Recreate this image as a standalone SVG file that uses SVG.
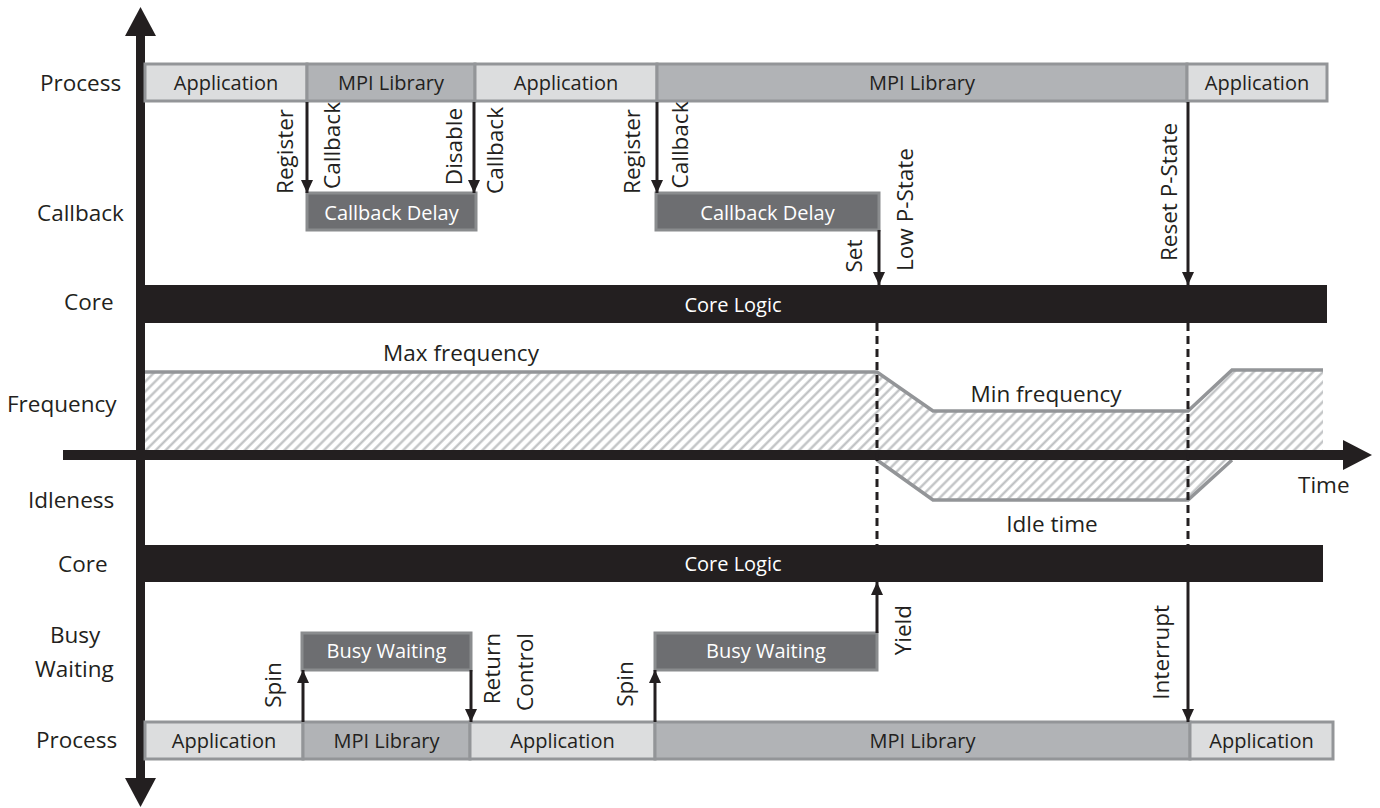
<svg xmlns="http://www.w3.org/2000/svg" width="1380" height="808" viewBox="0 0 1380 808">
<style>
text{font-family:"Open Sans","Liberation Sans",sans-serif;fill:#231f20}
.lbl{font-size:22.5px}
.box{font-size:20px;text-anchor:middle}
.wt{fill:#ffffff}
.app{fill:#dcddde;stroke:#939598;stroke-width:3}
.mpi{fill:#b1b3b6;stroke:#939598;stroke-width:3}
.dly{fill:#6d6e71;stroke:#8a8c8e;stroke-width:3}
.core{fill:#231f20}
.arr{stroke:#231f20;stroke-width:3;fill:none;marker-end:url(#ah)}
.dash{stroke:#231f20;stroke-width:3;stroke-dasharray:8 5;fill:none}
.rot{font-size:22.5px}
</style>
<defs>
<marker id="ah" markerUnits="userSpaceOnUse" markerWidth="14" markerHeight="14" viewBox="0 0 14 14" refX="13" refY="7" orient="auto">
<path d="M0,1 L13,7 L0,13 z" fill="#231f20"/>
</marker>
<pattern id="hatch" width="7" height="7" patternUnits="userSpaceOnUse" patternTransform="rotate(45)">
<rect width="7" height="7" fill="#ffffff"/>
<line x1="1.5" y1="0" x2="1.5" y2="7" stroke="#bcbec0" stroke-width="2.2"/>
</pattern>
</defs>
<rect width="1380" height="808" fill="#ffffff"/>

<!-- row labels -->
<g id="row-labels" class="lbl">
<text x="40" y="91">Process</text>
<text x="37" y="221">Callback</text>
<text x="64" y="310">Core</text>
<text x="7" y="412">Frequency</text>
<text x="28" y="508">Idleness</text>
<text x="58" y="572">Core</text>
<text x="50" y="643">Busy</text>
<text x="35" y="677">Waiting</text>
<text x="36" y="748">Process</text>
</g>

<!-- frequency / idleness areas -->
<g id="frequency">
<polygon points="145,372 877,372 933,411 1188,411 1232,370 1323,370 1323,450 145,450" fill="url(#hatch)"/>
<polyline points="145,372 877,372 933,411 1188,411 1232,370 1323,370" fill="none" stroke="#939598" stroke-width="3.5"/>
<text class="lbl" x="461" y="361" text-anchor="middle">Max frequency</text>
<text class="lbl" x="1046" y="402" text-anchor="middle">Min frequency</text>
</g>
<g id="idleness">
<polygon points="877,460 933,500 1188,500 1232,460" fill="url(#hatch)"/>
<polyline points="877,460 933,500 1188,500 1232,460" fill="none" stroke="#939598" stroke-width="3.5"/>
<text class="lbl" x="1052" y="532" text-anchor="middle">Idle time</text>
</g>

<!-- axes -->
<g id="axes">
<rect x="63" y="450" width="1282" height="10" fill="#231f20"/>
<polygon points="1343,440 1372,455 1343,470" fill="#231f20"/>
<rect x="136" y="33" width="9" height="747" fill="#231f20"/>
<polygon points="125,36 140.5,7 156,36" fill="#231f20"/>
<polygon points="125,778 140.5,807 156,778" fill="#231f20"/>
<text class="lbl" x="1298" y="493">Time</text>
</g>

<!-- top process bar -->
<g id="process-top">
<rect class="app" x="145" y="64" width="162" height="37"/>
<rect class="mpi" x="307" y="64" width="168" height="37"/>
<rect class="app" x="475" y="64" width="182" height="37"/>
<rect class="mpi" x="657" y="64" width="530" height="37"/>
<rect class="app" x="1187" y="64" width="140" height="37"/>
<text class="box" x="226" y="90">Application</text>
<text class="box" x="391" y="90">MPI Library</text>
<text class="box" x="566" y="90">Application</text>
<text class="box" x="922" y="90">MPI Library</text>
<text class="box" x="1257" y="90">Application</text>
</g>

<g id="callback-delay-1">
<rect class="dly" x="307" y="193" width="169" height="37"/>
<text class="box wt" x="391.5" y="220">Callback Delay</text>
</g>
<g id="callback-delay-2">
<rect class="dly" x="656" y="193" width="223" height="37"/>
<text class="box wt" x="767.5" y="220">Callback Delay</text>
</g>

<g id="core-top">
<rect class="core" x="145" y="285" width="1182" height="38"/>
<text class="box wt" x="733" y="312">Core Logic</text>
</g>
<g id="core-bottom">
<rect class="core" x="145" y="545" width="1178" height="37"/>
<text class="box wt" x="733" y="571">Core Logic</text>
</g>

<g id="busy-waiting-1">
<rect class="dly" x="302" y="633" width="169" height="37"/>
<text class="box wt" x="386.5" y="658">Busy Waiting</text>
</g>
<g id="busy-waiting-2">
<rect class="dly" x="655" y="633" width="222" height="37"/>
<text class="box wt" x="766" y="658">Busy Waiting</text>
</g>

<!-- bottom process bar -->
<g id="process-bottom">
<rect class="app" x="145" y="722" width="158" height="37"/>
<rect class="mpi" x="303" y="722" width="167" height="37"/>
<rect class="app" x="470" y="722" width="185" height="37"/>
<rect class="mpi" x="655" y="722" width="535" height="37"/>
<rect class="app" x="1190" y="722" width="143" height="37"/>
<text class="box" x="224" y="748">Application</text>
<text class="box" x="386.5" y="748">MPI Library</text>
<text class="box" x="562.5" y="748">Application</text>
<text class="box" x="922.5" y="748">MPI Library</text>
<text class="box" x="1261.5" y="748">Application</text>
</g>

<!-- connectors -->
<g id="connectors">
<line class="arr" x1="307" y1="102" x2="307" y2="193"/>
<line class="arr" x1="474" y1="102" x2="474" y2="193"/>
<line class="arr" x1="657" y1="102" x2="657" y2="193"/>
<line class="arr" x1="879" y1="230" x2="879" y2="285"/>
<line class="arr" x1="1188" y1="102" x2="1188" y2="285"/>
<line class="arr" x1="303" y1="722" x2="303" y2="670"/>
<line class="arr" x1="471" y1="670" x2="471" y2="722"/>
<line class="arr" x1="655" y1="722" x2="655" y2="670"/>
<line class="arr" x1="877" y1="633" x2="877" y2="582"/>
<line class="arr" x1="1188" y1="582" x2="1188" y2="722"/>
<line class="dash" x1="877" y1="323" x2="877" y2="545"/>
<line class="dash" x1="1188" y1="323" x2="1188" y2="545"/>
</g>

<!-- connector labels -->
<g id="connector-labels" class="rot">
<text transform="translate(293,151.5) rotate(-90)" text-anchor="middle">Register</text>
<text transform="translate(340,145.5) rotate(-90)" text-anchor="middle">Callback</text>
<text transform="translate(462,146.5) rotate(-90)" text-anchor="middle">Disable</text>
<text transform="translate(503,150.5) rotate(-90)" text-anchor="middle">Callback</text>
<text transform="translate(640,151.5) rotate(-90)" text-anchor="middle">Register</text>
<text transform="translate(688,145) rotate(-90)" text-anchor="middle">Callback</text>
<text transform="translate(862,256) rotate(-90)" text-anchor="middle">Set</text>
<text transform="translate(913,209.5) rotate(-90)" text-anchor="middle">Low P-State</text>
<text transform="translate(1177,192) rotate(-90)" text-anchor="middle">Reset P-State</text>
<text transform="translate(281,685) rotate(-90)" text-anchor="middle">Spin</text>
<text transform="translate(633,684) rotate(-90)" text-anchor="middle">Spin</text>
<text transform="translate(500,633) rotate(-90)" text-anchor="end">Return</text>
<text transform="translate(533,633) rotate(-90)" text-anchor="end">Control</text>
<text transform="translate(911,605) rotate(-90)" text-anchor="end">Yield</text>
<text transform="translate(1169,605) rotate(-90)" text-anchor="end">Interrupt</text>
</g>
</svg>
